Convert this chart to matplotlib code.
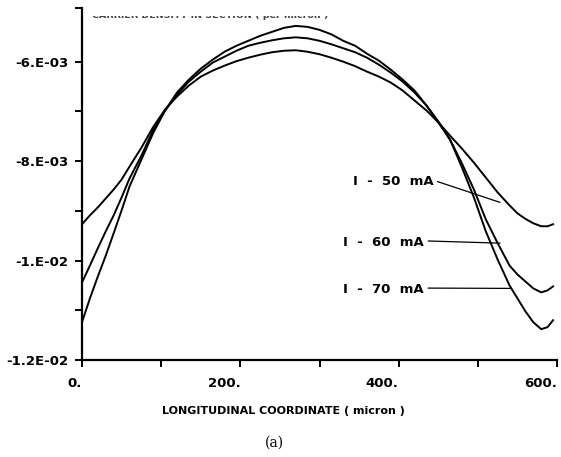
import matplotlib
matplotlib.use("Agg")
import matplotlib.pyplot as plt
from matplotlib.patches import Rectangle
import numpy as np

# longitudinal coordinate (micron)
x = [0, 10, 20, 30, 40, 50, 60, 75, 90, 105, 120, 135, 150, 165, 180, 195,
     210, 225, 240, 255, 270, 285, 300, 315, 330, 345, 360, 375, 390, 405,
     420, 435, 450, 465, 480, 495, 510, 525, 540, 550, 560, 570, 580, 588, 595]

# values, in units of 1e-3
i50 = [-9.27, -9.09, -8.93, -8.75, -8.57, -8.37, -8.11, -7.73, -7.31, -6.96,
       -6.70, -6.48, -6.30, -6.18, -6.08, -5.99, -5.92, -5.86, -5.81, -5.78,
       -5.77, -5.80, -5.85, -5.92, -6.00, -6.09, -6.20, -6.30, -6.42, -6.58,
       -6.78, -6.98, -7.22, -7.49, -7.75, -8.03, -8.33, -8.63, -8.89, -9.05,
       -9.16, -9.25, -9.31, -9.31, -9.27]
i60 = [-10.44, -10.10, -9.75, -9.41, -9.09, -8.73, -8.35, -7.89, -7.37, -6.98,
       -6.66, -6.40, -6.20, -6.02, -5.90, -5.78, -5.68, -5.62, -5.57, -5.53,
       -5.51, -5.53, -5.58, -5.65, -5.73, -5.81, -5.92, -6.06, -6.22, -6.40,
       -6.62, -6.88, -7.20, -7.57, -8.05, -8.57, -9.17, -9.65, -10.10, -10.28,
       -10.42, -10.56, -10.64, -10.60, -10.52]
i70 = [-11.24, -10.76, -10.32, -9.90, -9.45, -8.99, -8.51, -7.97, -7.43, -6.98,
       -6.62, -6.36, -6.14, -5.96, -5.80, -5.68, -5.58, -5.48, -5.40, -5.32,
       -5.28, -5.30, -5.36, -5.45, -5.58, -5.68, -5.84, -5.98, -6.16, -6.36,
       -6.58, -6.88, -7.22, -7.57, -8.13, -8.73, -9.41, -9.98, -10.50, -10.76,
       -11.02, -11.24, -11.38, -11.34, -11.20]

labels = ["I  -  50  mA", "I  -  60  mA", "I  -  70  mA"]
# where each leader line touches its curve, and where its text sits (1e-3 units)
leader_end = [(528, -8.83), (528, -9.65), (541, -10.56)]
text_pos = [(342, -8.41), (330, -9.63), (330, -10.58)]

xticks = [0, 200, 400, 600]
xticklabels = ["0.", "200.", "400.", "600."]
yticks = [-6e-3, -8e-3, -1e-2, -1.2e-2]
yticklabels = ["-6.E-03", "-8.E-03", "-1.E-02", "-1.2E-02"]

plt.rcParams['font.family'] = ['DejaVu Sans']
plt.rcParams['font.weight'] = 'bold'

fig = plt.figure(figsize=(5.61, 4.57), dpi=100)
ax = fig.add_axes([0.1462, 0.2123, 0.8467, 0.7702])

for ys in (i50, i60, i70):
    ax.plot(x, np.array(ys) * 1e-3, color='black', lw=1.4)

for lab, (xe, ye), (xt, yt) in zip(labels, leader_end, text_pos):
    ax.annotate(lab, xy=(xe, ye * 1e-3), xytext=(xt, yt * 1e-3),
                fontsize=9.5, fontweight='bold', va='center', ha='left',
                arrowprops=dict(arrowstyle='-', color='black', lw=0.9,
                                shrinkA=1, shrinkB=0, relpos=(1.0, 0.6)))

ax.set_xlim(0, 600)
ax.set_ylim(-0.012, -0.00492)
ax.set_xticks(xticks)
ax.set_xticklabels(xticklabels, ha='right')
ax.set_xticks([100, 300, 500], minor=True)
ax.set_yticks(yticks)
ax.set_yticklabels(yticklabels)
ax.set_yticks([-0.011, -0.009, -0.007, -0.00492], minor=True)

for s in ('top', 'right'):
    ax.spines[s].set_visible(False)
for s in ('left', 'bottom'):
    ax.spines[s].set_linewidth(1.6)

ax.tick_params(which='both', direction='out', width=1.4, length=5,
               labelsize=9.5, pad=5)
ax.tick_params(axis='x', which='major', pad=7)

ax.set_xlabel("LONGITUDINAL COORDINATE ( micron )", fontsize=8,
              fontweight='bold', labelpad=12, x=0.423)

# half-cut ordinate title at the top: only the bottom of the letters shows,
# a white strip hides the rest
fig.text(0.164, 0.9606, "CARRIER DENSITY IN SECTION ( per micron )",
         fontsize=6.8, fontweight='bold', color='#444444', va='baseline',
         zorder=3)
fig.add_artist(Rectangle((0.157, 0.9639), 0.467, 0.0361,
                         transform=fig.transFigure, facecolor='white',
                         edgecolor='none', zorder=10))

fig.text(0.49, 0.022, "(a)", fontsize=10, family='DejaVu Serif',
         fontweight='normal', ha='center')

fig.savefig("out.png", dpi=100)
